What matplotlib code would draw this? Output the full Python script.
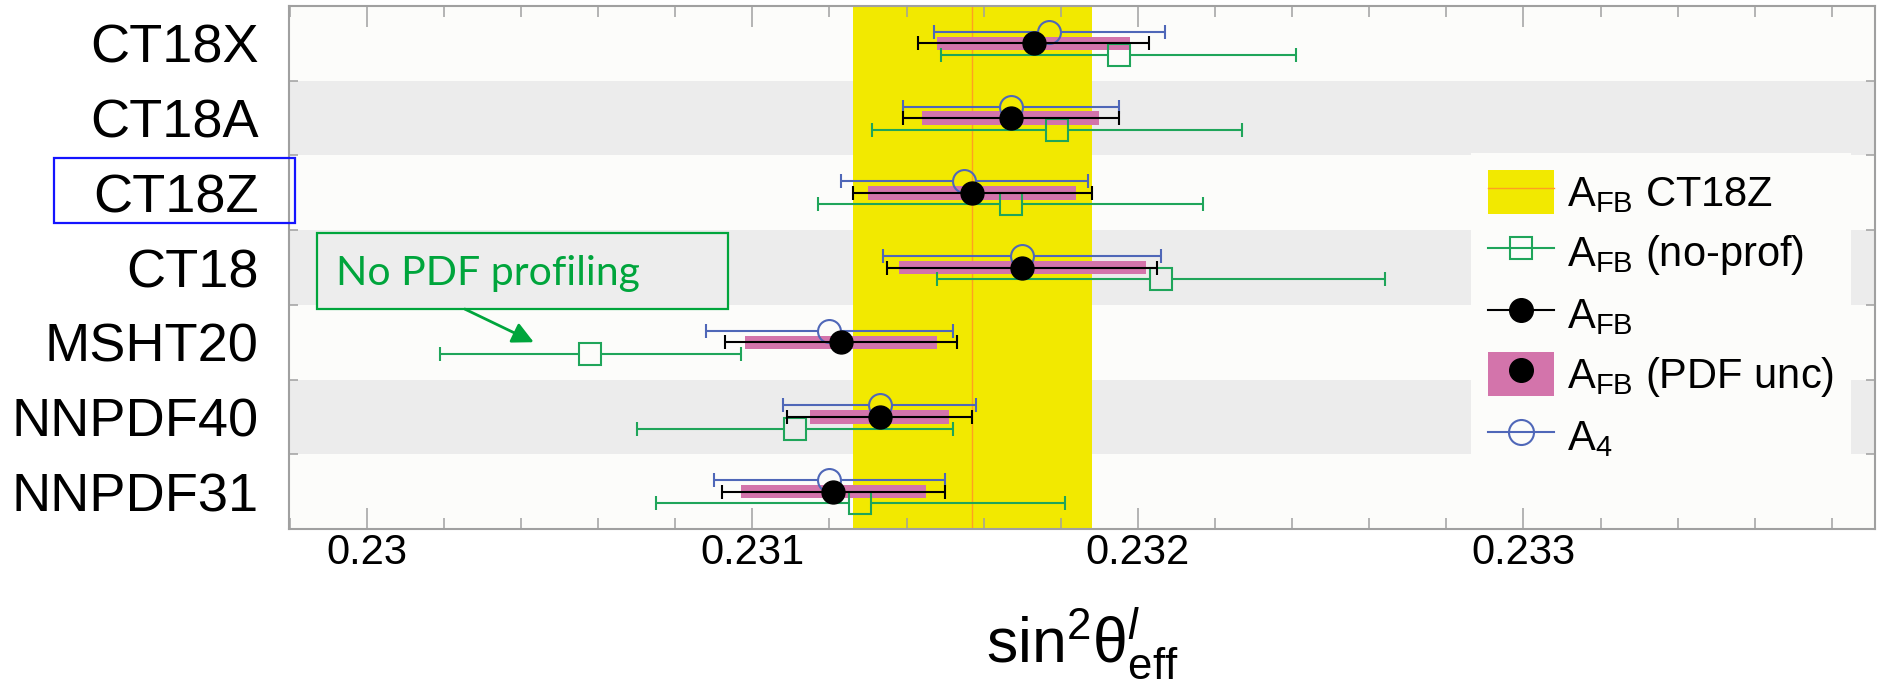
import matplotlib
matplotlib.use("Agg")
import matplotlib.pyplot as plt
import numpy as np
from matplotlib import font_manager
from matplotlib.lines import Line2D
from matplotlib.patches import Patch, Rectangle
from matplotlib.transforms import blended_transform_factory

# Datos (sin^2 theta_eff por conjunto de PDF)
# -----------------------------------------------------------------------------
pdf_sets = ["CT18X", "CT18A", "CT18Z", "CT18", "MSHT20", "NNPDF40", "NNPDF31"]

afb = np.array([0.23173, 0.23167, 0.23157, 0.23170, 0.23123, 0.23133, 0.23121])
afb_err = np.array([0.00030, 0.00028, 0.00031, 0.00035, 0.00030, 0.00024, 0.00029])
afb_pdf_err = np.array([0.00025, 0.00023, 0.00027, 0.00032, 0.00025, 0.00018, 0.00024])

afb_noprof = np.array([0.23195, 0.23179, 0.23167, 0.23206, 0.23058, 0.23111, 0.23128])
afb_noprof_err = np.array([0.00046, 0.00048, 0.00050, 0.00058, 0.00039, 0.00041, 0.00053])

a4 = np.array([0.23177, 0.23167, 0.23155, 0.23170, 0.23120, 0.23133, 0.23120])
a4_err = np.array([0.00030, 0.00028, 0.00032, 0.00036, 0.00032, 0.00025, 0.00030])

xticks = [0.230, 0.231, 0.232, 0.233]
xtick_labels = ["0.23", "0.231", "0.232", "0.233"]

ref_set = "CT18Z"
nota = "No PDF profiling"

# Estilos
# -----------------------------------------------------------------------------
YELLOW = "#f2e900"
ORANGE = "#ffa020"
PINK = "#d374ab"
GREEN = "#1fa55a"
BLUE = "#4f67b8"
NOTE_GREEN = "#00a53c"
GRIS = "#a0a0a0"

disponibles = {f.name for f in font_manager.fontManager.ttflist}
narrow = "Liberation Sans Narrow" if "Liberation Sans Narrow" in disponibles else "Liberation Sans"

plt.rcParams["font.family"] = ["Liberation Sans", "DejaVu Sans"]
plt.rcParams["mathtext.fontset"] = "custom"
plt.rcParams["mathtext.rm"] = "Liberation Sans"
plt.rcParams["mathtext.it"] = "Liberation Sans:italic"
plt.rcParams["mathtext.bf"] = "Liberation Sans:bold"

fig = plt.figure(figsize=(18.85, 6.84), dpi=100)
ax = fig.add_axes([0.1533, 0.2266, 0.8414, 0.7646])
ax.set_facecolor("#fcfcfa")

filas = np.arange(len(pdf_sets))
ax.set_xlim(0.229798, 0.233912)
ax.set_ylim(len(pdf_sets) - 0.5, -0.5)

# bandas alternadas
for f in filas[1::2]:
    ax.axhspan(f - 0.5, f + 0.5, color="#ececec", lw=0, zorder=0)

# banda de referencia
i_ref = pdf_sets.index(ref_set)
ax.axvspan(afb[i_ref] - afb_err[i_ref], afb[i_ref] + afb_err[i_ref], color=YELLOW, lw=0, zorder=0.5)
ax.axvline(afb[i_ref], color=ORANGE, lw=1.0, zorder=0.6)

# incertidumbre PDF
ax.barh(filas, 2 * afb_pdf_err, left=afb - afb_pdf_err, height=0.18, color=PINK, lw=0, zorder=2)

bbox = ax.get_window_extent()
x_por_px = (ax.get_xlim()[1] - ax.get_xlim()[0]) / bbox.width
LW = 1.5
CAP = 10


def barras_con_hueco(x, xe, y, color, marker, ms):
    """barra de error que se corta en el borde del marcador (estilo ROOT)"""
    hueco = ms / 2 * fig.dpi / 72 * x_por_px
    ax.hlines(y, x - xe, x - hueco, color=color, lw=LW, zorder=3)
    ax.hlines(y, x + hueco, x + xe, color=color, lw=LW, zorder=3)
    ax.plot(np.r_[x - xe, x + xe], np.r_[y, y], ls="none", marker="|", ms=CAP, mew=LW, color=color, zorder=3)
    ax.plot(x, y, ls="none", marker=marker, ms=ms, mfc="none", mec=color, mew=LW, zorder=3.5)


barras_con_hueco(afb_noprof, afb_noprof_err, filas + 0.155, GREEN, "s", 16.5)
barras_con_hueco(a4, a4_err, filas - 0.155, BLUE, "o", 16.5)

ax.errorbar(afb, filas, xerr=afb_err, fmt="o", color="k", ms=16.5, elinewidth=LW,
            capsize=CAP / 2, capthick=LW, zorder=4)

# ejes
ax.set_xticks(xticks, xtick_labels)
ax.set_xticks(np.arange(0.2298, 0.2339, 0.0002), minor=True)
ax.set_yticks(filas, pdf_sets)
ax.set_yticks(filas[:-1] + 0.5, minor=True)
ax.tick_params(axis="x", which="major", direction="in", length=15, width=1.1, color=GRIS,
               top=True, labelsize=30, pad=3)
ax.tick_params(axis="x", which="minor", direction="in", length=8, width=1.1, color=GRIS, top=True)
ax.tick_params(axis="y", which="major", length=0, labelsize=39, pad=22)
ax.tick_params(axis="y", which="minor", direction="in", length=6.5, width=1.1, color=GRIS, right=True)
for s in ax.spines.values():
    s.set_color(GRIS)
    s.set_linewidth(1.5)

ax.set_xlabel("sin$^{2}$θ$^{l}_{\\mathrm{eff}}$", fontsize=45, family=[narrow, "DejaVu Sans"], labelpad=23)

# recuadro azul sobre la etiqueta de referencia
trans = blended_transform_factory(ax.transAxes, ax.transData)
ax.add_patch(Rectangle((-0.148, i_ref - 0.46), 0.152, 0.86, transform=trans, fill=False,
                       ec="#1414ff", lw=1.6, clip_on=False, zorder=10))

# nota
ax.add_patch(Rectangle((0.22987, 2.54), 0.001066, 1.017, fc="#ededed", ec=NOTE_GREEN, lw=1.6, zorder=5))
ax.text(0.22992, 3.08, nota, color=NOTE_GREEN, fontsize=29.5, family=["Lato", "DejaVu Sans"],
        ha="left", va="center", zorder=6)
ax.annotate("", xy=(0.230433, 4.0), xytext=(0.230254, 3.556),
            arrowprops=dict(arrowstyle="-|>", color=NOTE_GREEN, lw=2.0, mutation_scale=32,
                            shrinkA=0, shrinkB=0), zorder=6)

# leyenda
handles = [
    (Patch(facecolor=YELLOW, edgecolor="none"), Line2D([], [], color=ORANGE, lw=1)),
    Line2D([], [], color=GREEN, lw=LW, marker="s", mfc="none", ms=16, mew=LW),
    Line2D([], [], color="k", lw=LW, marker="o", ms=17),
    (Patch(facecolor=PINK, edgecolor="none"), Line2D([], [], ls="none", marker="o", color="k", ms=17)),
    Line2D([], [], color=BLUE, lw=LW, marker="o", mfc="none", ms=18, mew=LW),
]
labels = [
    r"$\mathrm{A}_{\mathrm{FB}}$ CT18Z",
    r"$\mathrm{A}_{\mathrm{FB}}$ (no-prof)",
    r"$\mathrm{A}_{\mathrm{FB}}$",
    r"$\mathrm{A}_{\mathrm{FB}}$ (PDF unc)",
    r"$\mathrm{A}_{4}$",
]
leg = fig.legend(handles, labels, loc="upper left", bbox_to_anchor=(0.7804, 0.776),
                 bbox_transform=fig.transFigure, fontsize=30, frameon=True, fancybox=False,
                 framealpha=1, facecolor="#fcfcfa", edgecolor="none", borderaxespad=0,
                 borderpad=0.4, handlelength=1.6, handleheight=1.25, handletextpad=0.3,
                 labelspacing=0.36)

fig.savefig("out.png", dpi=100)
